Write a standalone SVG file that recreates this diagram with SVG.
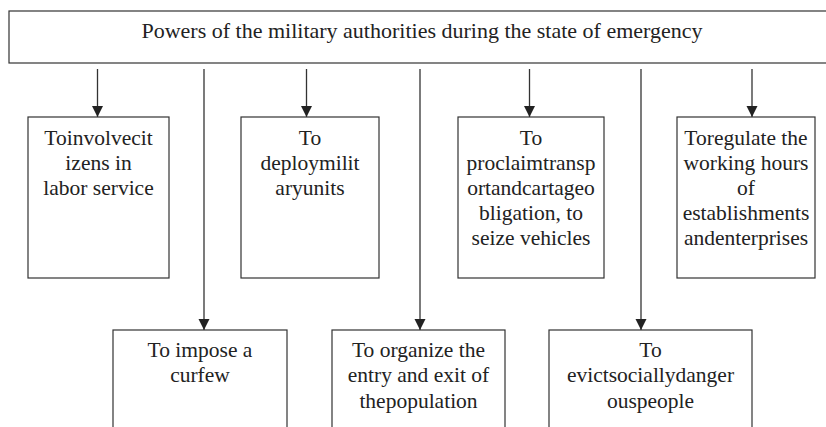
<svg xmlns="http://www.w3.org/2000/svg" width="826" height="427" viewBox="0 0 826 427">
<defs>
<style>
.box{fill:#fff;stroke:#333;stroke-width:1.2}
text{font-family:'Liberation Serif','Times New Roman','DejaVu Serif',serif;font-size:21.5px;fill:#222;text-anchor:middle}
.title{font-size:22px}
.c{stroke:#333;stroke-width:1.3;fill:none}
</style>
<marker id="ah" markerUnits="userSpaceOnUse" markerWidth="12" markerHeight="12" viewBox="0 0 12 12" refX="11" refY="6" orient="auto">
<path d="M0,0.5 L11,6 L0,11.5 Z" fill="#222"/>
</marker>
</defs>
<rect width="826" height="427" fill="#fff"/>
<g id="connectors">
<line class="c" x1="97.5" y1="69" x2="97.5" y2="117" marker-end="url(#ah)"/>
<line class="c" x1="306.5" y1="69" x2="306.5" y2="117" marker-end="url(#ah)"/>
<line class="c" x1="529.5" y1="69" x2="529.5" y2="117" marker-end="url(#ah)"/>
<line class="c" x1="752" y1="69" x2="752" y2="117" marker-end="url(#ah)"/>
<line class="c" x1="204" y1="69" x2="204" y2="330" marker-end="url(#ah)"/>
<line class="c" x1="420" y1="69" x2="420" y2="330" marker-end="url(#ah)"/>
<line class="c" x1="641" y1="69" x2="641" y2="330" marker-end="url(#ah)"/>
</g>
<g font-family="Liberation Serif, Times New Roman, serif">
<g id="root">
<rect class="box" x="9" y="11" width="830" height="52"/>
<text class="title" x="422" y="38">Powers of the military authorities during the state of emergency</text>
</g>
<g id="n1">
<rect class="box" x="28" y="117" width="141" height="161"/>
<text x="98.5" y="145">Toinvolvecit</text>
<text x="98.5" y="170">izens in</text>
<text x="98.5" y="195">labor service</text>
</g>
<g id="n2">
<rect class="box" x="241" y="117" width="138" height="161"/>
<text x="310" y="145">To</text>
<text x="310" y="170">deploymilit</text>
<text x="310" y="195">aryunits</text>
</g>
<g id="n3">
<rect class="box" x="458" y="117" width="146" height="161"/>
<text x="531" y="145">To</text>
<text x="531" y="170">proclaimtransp</text>
<text x="531" y="195">ortandcartageo</text>
<text x="531" y="220">bligation, to</text>
<text x="531" y="245">seize vehicles</text>
</g>
<g id="n4">
<rect class="box" x="677" y="117" width="138" height="161"/>
<text x="746" y="145">Toregulate the</text>
<text x="746" y="170">working hours</text>
<text x="746" y="195">of</text>
<text x="746" y="220">establishments</text>
<text x="746" y="245">andenterprises</text>
</g>
<g id="n5">
<rect class="box" x="113" y="330" width="174" height="110"/>
<text x="200" y="357">To impose a</text>
<text x="200" y="382">curfew</text>
</g>
<g id="n6">
<rect class="box" x="332" y="330" width="173" height="110"/>
<text x="418.5" y="357">To organize the</text>
<text x="418.5" y="382">entry and exit of</text>
<text x="418.5" y="408">thepopulation</text>
</g>
<g id="n7">
<rect class="box" x="549" y="330" width="203" height="110"/>
<text x="650.5" y="357">To</text>
<text x="650.5" y="382">evictsociallydanger</text>
<text x="650.5" y="408">ouspeople</text>
</g>
</g>
</svg>
